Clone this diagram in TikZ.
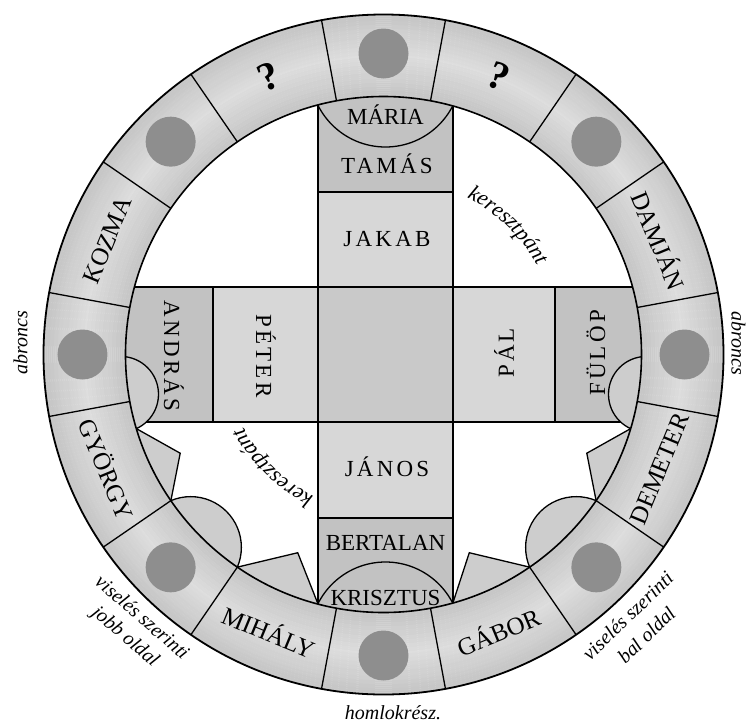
\documentclass[tikz,border=0pt]{standalone}
\usepackage{fontspec}
\setmainfont{Liberation Serif}
\newfontfamily\spc[LetterSpace=14]{Liberation Serif}
\usetikzlibrary{decorations.text,calc}
\definecolor{dotgray}{HTML}{8E8E8E}
\definecolor{cdark}{HTML}{C2C2C2}
\definecolor{clight}{HTML}{D7D7D7}
\definecolor{cmid}{HTML}{C9C9C9}
\definecolor{cdisk}{HTML}{CDCDCD}
\begin{document}
\begin{tikzpicture}[x=1pt,y=1pt,
  cell/.style={draw=black, line width=1.3pt},
  segline/.style={draw=black, line width=1.3pt},
  lab/.style={font=\fontsize{23}{25}\selectfont, inner sep=0pt},
  slab/.style={font=\spc\fontsize{23}{25}\selectfont, inner sep=0pt},
  rlab/.style={font=\fontsize{25}{27}\selectfont, inner sep=0pt},
  qlab/.style={font=\bfseries\fontsize{40}{42}\selectfont, inner sep=0pt},
  ital/.style={font=\itshape\fontsize{20}{24}\selectfont, inner sep=0pt},
  dotnode/.style={circle, fill=dotgray, draw=none, minimum size=50pt, inner sep=0pt}]
\useasboundingbox (-383.5,-369.5) rectangle (365.5,354.5);
\fill[white] (-383.5,-369.5) rectangle (365.5,354.5);
% ring gradient
\foreach \i in {0,...,40}{
  \pgfmathsetmacro{\rr}{259+2*\i}
  \pgfmathtruncatemacro{\gg}{87-9*abs(\rr-299)/40}
  \draw[line width=2.3pt, white!\gg!black] (0,0) circle[radius=\rr];
}
% inner area
\begin{scope}
  \clip (0,0) circle[radius=258];
  \fill[white] (0,0) circle[radius=258];
  % vertical bar
  \filldraw[cell, fill=cdark] (-65.5,162.5) rectangle (69.5,264);
  \filldraw[cell, fill=clight] (-65.5,67.5) rectangle (69.5,162.5);
  \filldraw[cell, fill=cmid] (-65.5,-67.5) rectangle (69.5,67.5);
  \filldraw[cell, fill=clight] (-65.5,-163.5) rectangle (69.5,-67.5);
  \filldraw[cell, fill=cdark] (-65.5,-264) rectangle (69.5,-163.5);
  % horizontal bar
  \filldraw[cell, fill=cdark] (-264,-67.5) rectangle (-170.5,67.5);
  \filldraw[cell, fill=clight] (-170.5,-67.5) rectangle (-65.5,67.5);
  \filldraw[cell, fill=clight] (69.5,-67.5) rectangle (171.5,67.5);
  \filldraw[cell, fill=cdark] (171.5,-67.5) rectangle (264,67.5);
  % arcs of MARIA and KRISZTUS
  \begin{scope}
    \clip (-65.5,-300) rectangle (69.5,300);
    \draw[cell] (2,283) circle[radius=75.5];
    \draw[cell] (2,-283) circle[radius=75.5];
  \end{scope}
  % half disks
  \filldraw[cell, fill=cdisk] (188.6:265.8) circle[radius=37.8];
  \filldraw[cell, fill=cdisk] (351.4:265.8) circle[radius=37.8];
  \filldraw[cell, fill=cdisk] (225:272.7) circle[radius=50.7];
  \filldraw[cell, fill=cdisk] (315:272.7) circle[radius=50.7];
  % triangles
  \filldraw[cell, fill=cdisk] (196.7:258) -- (205.9:226) -- (214.5:258) -- (214.5:300) -- (196.7:300) -- cycle;
  \filldraw[cell, fill=cdisk] (235.5:258) -- (246.6:216) -- (255.3:258) -- (255.3:300) -- (235.5:300) -- cycle;
  \filldraw[cell, fill=cdisk] (304.5:258) -- (293.4:216) -- (285.6:258) -- (285.6:300) -- (304.5:300) -- cycle;
  \filldraw[cell, fill=cdisk] (325.5:258) -- (334.1:226) -- (343.3:258) -- (343.3:300) -- (325.5:300) -- cycle;
\end{scope}
% ring outlines
\draw[line width=1.8pt] (0,0) circle[radius=340];
\draw[line width=1.6pt] (0,0) circle[radius=258];
\foreach \k in {0,45,...,315}{
  \draw[segline] (\k+10.5:258) -- (\k+10.5:340);
  \draw[segline] (\k-10.5:258) -- (\k-10.5:340);
  \node[dotnode] (dot\k) at (\k:301) {};
}
% ring labels
\node[rlab, rotate=67.5] (kozma) at (157.5:299) {KOZMA};
\node[rlab, rotate=-67.5] (damjan) at (22.5:299) {DAMJÁN};
\node[rlab, rotate=-67.5] (gyorgy) at (202.5:299) {GYÖRGY};
\node[rlab, rotate=-22.5] (mihaly) at (247.5:299) {MIHÁLY};
\node[rlab, rotate=22.5] (gabor) at (292.5:299) {GÁBOR};
\node[rlab, rotate=67.5] (demeter) at (337.5:299) {DEMETER};
\node[qlab, rotate=22.5] (q1) at (112.5:301) {?};
\node[qlab, rotate=-22.5] (q2) at (67.5:301) {?};
% cross labels
\node[lab] (maria) at (2,240) {MÁRIA};
\node[slab] (tamas) at (3.5,191) {TAMÁS};
\node[slab] (jakab) at (3.5,115.5) {JAKAB};
\node[slab] (janos) at (3.5,-112.5) {JÁNOS};
\node[lab] (bertalan) at (2,-188.5) {BERTALAN};
\node[lab] (krisztus) at (2,-243.5) {KRISZTUS};
\node[slab, rotate=-90] (andras) at (-209.5,-1.5) {ANDRÁS};
\node[slab, rotate=-90] (peter) at (-117.5,-1.5) {PÉTER};
\node[slab, rotate=90] (pal) at (120.5,1.5) {PÁL};
\node[slab, rotate=90] (fulop) at (212.5,1.5) {FÜLÖP};
% keresztpant
\path[decorate, decoration={text along path, text align=center,
  text={|\itshape\fontsize{22}{24}\selectfont|keresztpánt}}]
  (80:178) arc[start angle=80, end angle=12, radius=178];
\path[decorate, decoration={text along path, text align=center,
  text={|\itshape\fontsize{22}{24}\selectfont|keresztpánt}}]
  (259.6:158) arc[start angle=259.6, end angle=191.6, radius=158];
% outside labels
\node[ital, rotate=90] (abl) at (-363,11.5) {abroncs};
\node[ital, rotate=-90] (abr) at (355,11.5) {abroncs};
\node[ital, rotate=-41] (jobb1) at ($(-249.7,-272.5)+(49:13.5)$) {viselés szerinti};
\node[ital, rotate=-41] (jobb2) at ($(-249.7,-272.5)+(229:13.5)$) {jobb oldal};
\node[ital, rotate=44] (bal1) at ($(253.5,-270.9)+(134:13.5)$) {viselés szerinti};
\node[ital, rotate=44] (bal2) at ($(253.5,-270.9)+(314:13.5)$) {bal oldal};
\node[ital] (homlok) at (9.5,-358.5) {homlokrész.};
\end{tikzpicture}
\end{document}
